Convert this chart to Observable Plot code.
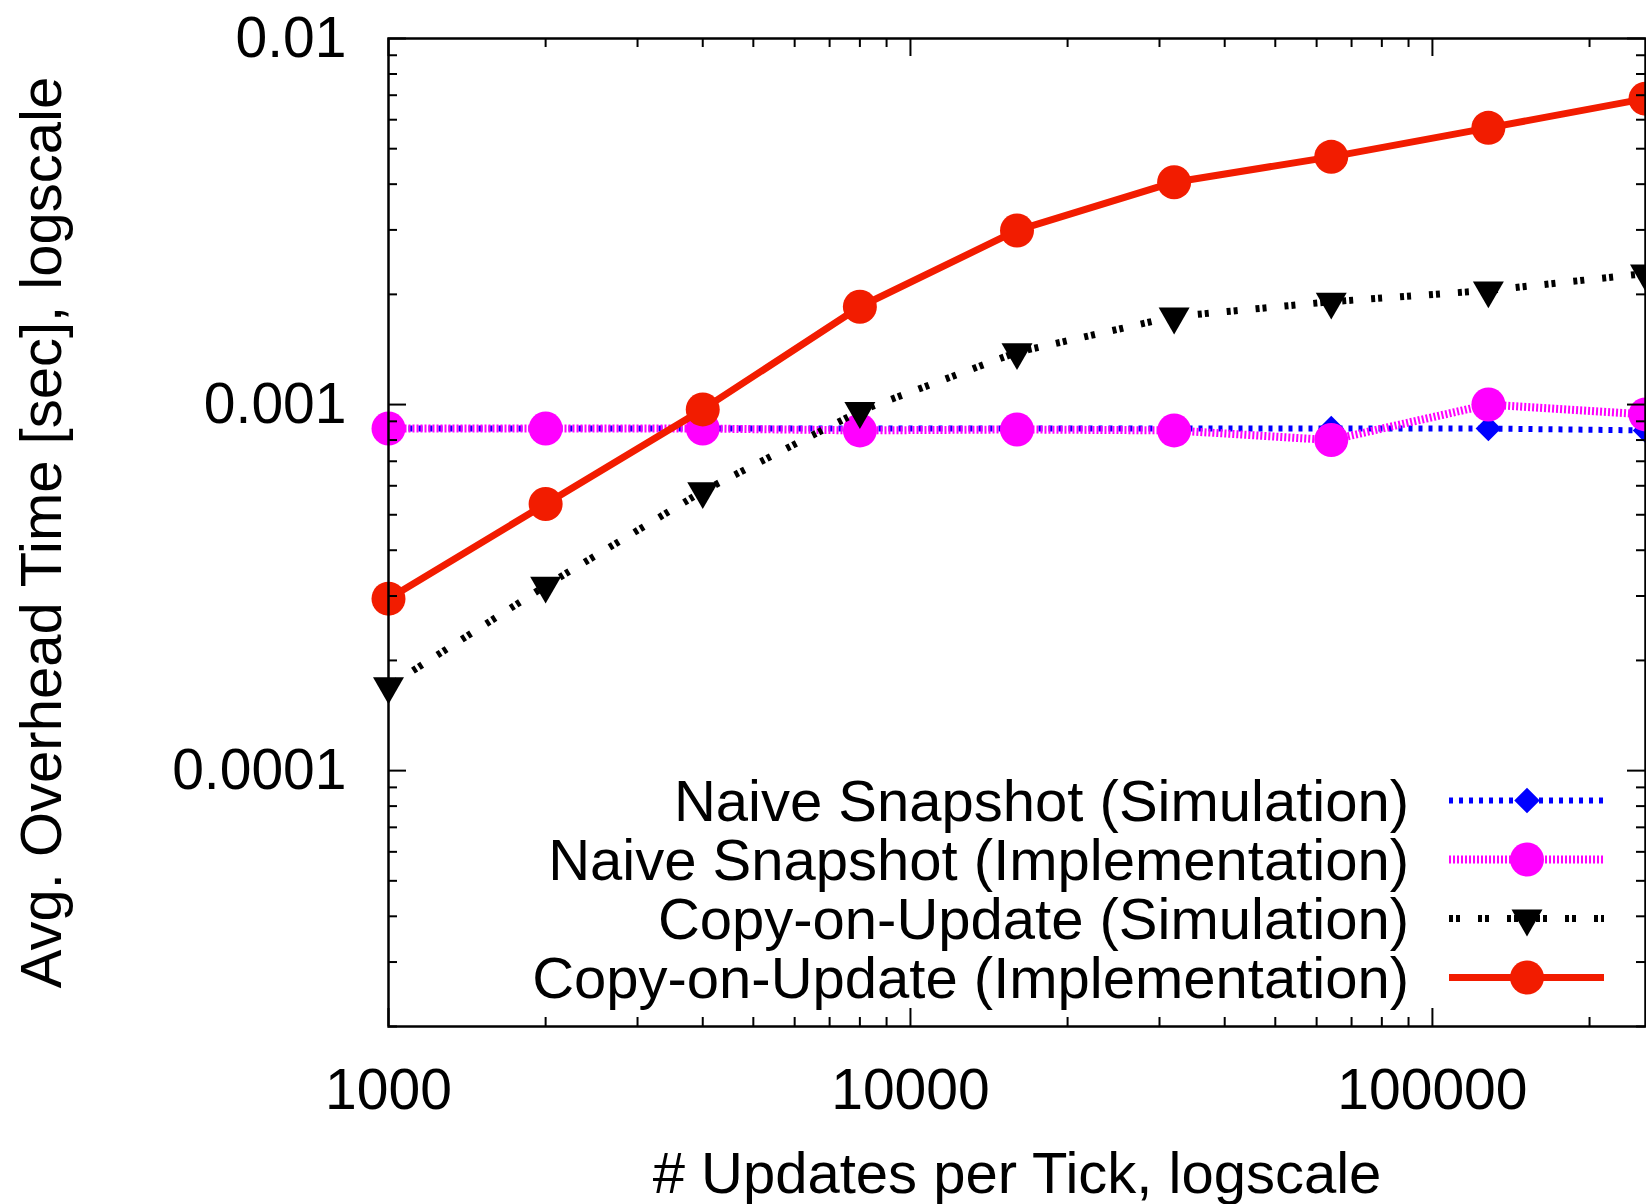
<!DOCTYPE html>
<html>
<head>
<meta charset="utf-8">
<script src="https://cdn.jsdelivr.net/npm/d3@7"></script>
<script src="https://cdn.jsdelivr.net/npm/@observablehq/plot@0.6"></script>
<style>
  body { margin: 0; background: #fff; }
  #wrap { position: relative; width: 1646px; height: 1204px; overflow: hidden;
          font-family: "Liberation Sans", Arial, Helvetica, sans-serif; color: #000; }
  #legend { position: absolute; left: 299px; top: 771px; }
  .row { display: flex; align-items: center; height: 59px; }
  .lt { display: inline-block; width: 1110px; text-align: right; font-size: 58px; line-height: 59px; white-space: nowrap; }
  .row svg { margin-left: 40px; display: block; overflow: visible; }
</style>
</head>
<body>
<div id="wrap"><div id="chart"></div><div id="legend"></div></div>
<script>
// ---- data ----
const updates = [1000, 2000, 4000, 8000, 16000, 32000, 64000, 128000, 256000];
const naiveSim  = [8.6e-4, 8.6e-4, 8.6e-4, 8.6e-4, 8.6e-4, 8.6e-4, 8.6e-4, 8.6e-4, 8.5e-4];
const naiveImpl = [8.6e-4, 8.6e-4, 8.6e-4, 8.5e-4, 8.55e-4, 8.5e-4, 8.0e-4, 1.0e-3, 9.4e-4];
const couSim    = [1.7e-4, 3.2e-4, 5.8e-4, 9.6e-4, 1.39e-3, 1.74e-3, 1.91e-3, 2.05e-3, 2.28e-3];
const couImpl   = [2.95e-4, 5.35e-4, 9.7e-4, 1.85e-3, 2.99e-3, 4.05e-3, 4.75e-3, 5.7e-3, 6.85e-3];
const seriesNames = [
  "Naive Snapshot (Simulation)",
  "Naive Snapshot (Implementation)",
  "Copy-on-Update (Simulation)",
  "Copy-on-Update (Implementation)"
];
const xMajorTicks = [1000, 10000, 100000];
const xMinorTicks = [2000, 3000, 4000, 5000, 6000, 7000, 8000, 9000,
                     20000, 30000, 40000, 50000, 60000, 70000, 80000, 90000, 200000];
const yMajorTicks = [0.0001, 0.001, 0.01];
const yMinorTicks = [2e-5, 3e-5, 4e-5, 5e-5, 6e-5, 7e-5, 8e-5, 9e-5,
                     2e-4, 3e-4, 4e-4, 5e-4, 6e-4, 7e-4, 8e-4, 9e-4,
                     2e-3, 3e-3, 4e-3, 5e-3, 6e-3, 7e-3, 8e-3, 9e-3];
const xLabel = "# Updates per Tick, logscale";
const yLabel = "Avg. Overhead Time [sec], logscale";

// ---- styles / layout ----
const invTriangle = {
  draw(ctx, size) {
    const s3 = Math.sqrt(3);
    const y = Math.sqrt(size / (s3 * 3));
    ctx.moveTo(0, y * 2);
    ctx.lineTo(-s3 * y, -y);
    ctx.lineTo(s3 * y, -y);
    ctx.closePath();
  }
};
const seriesValues = [naiveSim, naiveImpl, couSim, couImpl];
const seriesStyle = [
  {color: "#0000ff", width: 6, dash: "4,6",      symbol: d3.symbolDiamond2, r: 11.5},
  {color: "#ff00ff", width: 8, dash: "2,2",      symbol: d3.symbolCircle,   r: 17},
  {color: "#000000", width: 7, dash: "4,3,4,18", symbol: invTriangle,       r: 11.5},
  {color: "#f21c00", width: 7, dash: null,       symbol: d3.symbolCircle,   r: 17}
];

const W = 1646, H = 1204, mL = 388, mR = 1, mT = 38, mB = 178;
const innerW = W - mL - mR, innerH = H - mT - mB;
const majorLen = 18, minorLen = 9;

const marks = [];
seriesValues.forEach((vals, i) => {
  const st = seriesStyle[i];
  const rows = updates.map((u, j) => ({x: u, y: vals[j]}));
  marks.push(Plot.line(rows, {x: "x", y: "y", stroke: st.color, strokeWidth: st.width,
    strokeDasharray: st.dash, strokeLinecap: "butt", strokeLinejoin: "round"}));
  marks.push(Plot.dot(rows, {x: "x", y: "y", r: st.r, symbol: st.symbol, fill: st.color, stroke: "none"}));
});

const tickStyle = {stroke: "#000", strokeWidth: 2};
// inward ticks, mirrored on all four sides
marks.push(Plot.tickX(xMajorTicks, {x: d => d, insetTop: innerH - majorLen, ...tickStyle}));
marks.push(Plot.tickX(xMajorTicks, {x: d => d, insetBottom: innerH - majorLen, ...tickStyle}));
marks.push(Plot.tickX(xMinorTicks, {x: d => d, insetTop: innerH - minorLen, ...tickStyle}));
marks.push(Plot.tickX(xMinorTicks, {x: d => d, insetBottom: innerH - minorLen, ...tickStyle}));
marks.push(Plot.tickY(yMajorTicks, {y: d => d, insetRight: innerW - majorLen, ...tickStyle}));
marks.push(Plot.tickY(yMajorTicks, {y: d => d, insetLeft: innerW - majorLen, ...tickStyle}));
marks.push(Plot.tickY(yMinorTicks, {y: d => d, insetRight: innerW - minorLen, ...tickStyle}));
marks.push(Plot.tickY(yMinorTicks, {y: d => d, insetLeft: innerW - minorLen, ...tickStyle}));

marks.push(Plot.axisX(xMajorTicks, {tickSize: 0, tickPadding: 42, fontSize: 57, label: null,
  tickFormat: d => String(d), fill: "#000"}));
marks.push(Plot.axisY(yMajorTicks, {tickSize: 0, tickPadding: 42, fontSize: 57, label: null,
  tickFormat: d => String(d), fill: "#000"}));

marks.push(Plot.text([xLabel], {frameAnchor: "bottom", dy: 148, lineAnchor: "middle", textAnchor: "middle",
  text: d => d, fontSize: 58, fill: "#000"}));
marks.push(Plot.text([yLabel], {frameAnchor: "left", dx: -346, rotate: -90, lineAnchor: "middle", textAnchor: "middle",
  text: d => d, fontSize: 58, fill: "#000"}));

marks.push(Plot.frame({stroke: "#000", strokeWidth: 2.5}));

const chart = Plot.plot({
  width: W, height: H,
  marginLeft: mL, marginRight: mR, marginTop: mT, marginBottom: mB,
  x: {type: "log", domain: [1000, 256000]},
  y: {type: "log", domain: [2e-5, 0.01]},
  style: {fontFamily: "'Liberation Sans', Arial, Helvetica, sans-serif", background: "#fff", color: "#000", overflow: "visible"},
  marks
});
document.getElementById("chart").appendChild(chart);

// ---- legend (inside the plot, bottom right) ----
const legend = d3.select("#legend");
seriesNames.forEach((name, i) => {
  const st = seriesStyle[i];
  const row = legend.append("div").attr("class", "row");
  row.append("span").attr("class", "lt").text(name);
  const svg = row.append("svg").attr("width", 160).attr("height", 59);
  svg.append("line").attr("x1", 0).attr("x2", 155).attr("y1", 29.5).attr("y2", 29.5)
    .attr("stroke", st.color).attr("stroke-width", st.width)
    .attr("stroke-dasharray", st.dash).attr("stroke-linecap", "butt");
  svg.append("path").attr("d", d3.symbol(st.symbol, Math.PI * st.r * st.r)())
    .attr("transform", "translate(78,29.5)").attr("fill", st.color);
});
</script>
</body>
</html>
